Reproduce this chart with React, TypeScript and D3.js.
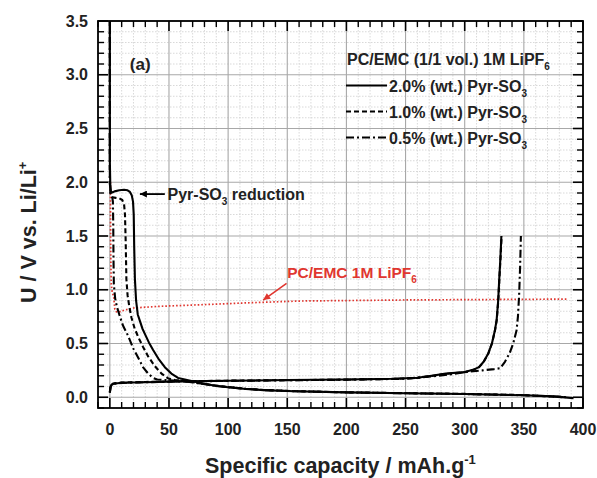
import React from "react";
import * as d3 from "d3";

type P = [number, number];

const X_MAJOR_TICKS = [0, 50, 100, 150, 200, 250, 300, 350, 400];
const Y_MAJOR_TICKS = [0.0, 0.5, 1.0, 1.5, 2.0, 2.5, 3.0, 3.5];

const SOLID_DISCHARGE: P[] = [
  [0, 3.5], [0, 2.2], [0.4, 1.97], [1, 1.91], [2, 1.905], [4, 1.915], [8, 1.925], [12, 1.93], [15, 1.925],
  [17, 1.91], [18.5, 1.88], [19.6, 1.82], [20.2, 1.7], [20.6, 1.4], [21.2, 1.1], [22.2, 0.9], [23.6, 0.77],
  [25.4, 0.71], [27.5, 0.64], [29.6, 0.59], [33, 0.51], [36.6, 0.44], [41, 0.36], [46.5, 0.28], [52, 0.22],
  [57.7, 0.18], [63.4, 0.165], [70, 0.148], [80, 0.125], [90, 0.105], [100, 0.093], [115, 0.077], [130, 0.066],
  [156, 0.056], [200, 0.045], [250, 0.037], [300, 0.03], [350, 0.018], [375, 0.008], [392, -0.008],
];
const DASHED_DISCHARGE: P[] = [
  [0, 3.5], [0, 2.0], [0.5, 1.9], [2, 1.86], [5, 1.855], [8, 1.85], [10.5, 1.835], [12, 1.8], [12.8, 1.7],
  [13.4, 1.45], [14, 1.1], [15, 0.95], [16.5, 0.84], [18.3, 0.74], [21, 0.64], [24, 0.56], [28, 0.47],
  [32.4, 0.38], [38, 0.29], [43.7, 0.22], [49.3, 0.175], [55, 0.16], [65, 0.15], [75, 0.13], [90, 0.108],
  [100, 0.095], [115, 0.079], [130, 0.068], [156, 0.057], [200, 0.046], [250, 0.038], [300, 0.031],
  [350, 0.02], [385, 0.0],
];
const DASHDOT_DISCHARGE: P[] = [
  [0, 3.5], [0, 2.0], [0.6, 1.9], [1.8, 1.88], [2.6, 1.82], [2.9, 1.6], [3.1, 1.3], [3.4, 1.05], [4.5, 0.92],
  [6, 0.84], [8, 0.77], [11, 0.67], [15.5, 0.57], [20, 0.45], [23.9, 0.37], [28, 0.28], [32.4, 0.22],
  [36.6, 0.18], [40, 0.165], [50, 0.158], [60, 0.152], [75, 0.13], [90, 0.106], [100, 0.094], [115, 0.078],
  [130, 0.067], [156, 0.056], [200, 0.045], [250, 0.037], [300, 0.03], [350, 0.019], [388, 0.0],
];
const SOLID_CHARGE: P[] = [
  [0, 0.04], [0.6, 0.09], [1.5, 0.115], [3, 0.125], [10, 0.135], [30, 0.14], [60, 0.148], [100, 0.153],
  [150, 0.16], [200, 0.165], [240, 0.172], [260, 0.182], [272, 0.2], [284, 0.22], [300, 0.235], [307, 0.255],
  [312, 0.28], [316, 0.33], [320, 0.41], [323, 0.5], [325.5, 0.62], [327, 0.72], [328.3, 0.9], [329.2, 1.1],
  [330.2, 1.3], [331, 1.5],
];
const DASHED_CHARGE: P[] = [
  [0, 0.05], [0.6, 0.1], [1.5, 0.12], [3, 0.128], [10, 0.137], [30, 0.142], [60, 0.149], [100, 0.154],
  [150, 0.159], [200, 0.164], [240, 0.171], [260, 0.18], [272, 0.198], [284, 0.218], [300, 0.233], [307, 0.253],
  [312, 0.278], [316, 0.328], [320, 0.408], [323, 0.5], [325.6, 0.62], [327.1, 0.72], [328.4, 0.9], [329.3, 1.1],
  [330.3, 1.3], [331.2, 1.5],
];
const DASHDOT_CHARGE: P[] = [
  [0, 0.045], [0.6, 0.1], [1.5, 0.118], [3, 0.126], [10, 0.134], [30, 0.14], [60, 0.147], [100, 0.152],
  [150, 0.158], [200, 0.163], [250, 0.172], [273, 0.195], [290, 0.215], [301.5, 0.235], [315, 0.25],
  [325, 0.262], [330, 0.27], [334, 0.33], [338, 0.41], [341, 0.5], [343.8, 0.62], [345, 0.75], [346, 0.95],
  [346.8, 1.2], [347.5, 1.5],
];
const RED_REFERENCE: P[] = [
  [0.5, 2.0], [0.6, 1.6], [0.8, 1.3], [1.2, 1.05], [2, 0.98], [3.3, 0.93], [4.2, 0.82], [5.5, 0.795], [7, 0.79],
  [12, 0.81], [20, 0.83], [40, 0.845], [76, 0.86], [120, 0.88], [160, 0.895], [250, 0.905], [386, 0.913],
];

const LEGEND_TITLE = "PC/EMC (1/1 vol.) 1M LiPF";
const LEGEND_LABELS = ["2.0% (wt.) Pyr-SO", "1.0% (wt.) Pyr-SO", "0.5% (wt.) Pyr-SO"];
const RED_LABEL = "PC/EMC 1M LiPF";

// annotation anchors in data units
const BLACK_ARROW: [P, P] = [[46.5, 1.89], [25.4, 1.89]];
const RED_ARROW: [P, P] = [[149.4, 1.059], [129.6, 0.904]];
const BLACK_TEXT_AT: P = [48.8, 1.834];
const RED_TEXT_AT: P = [150, 1.108];
const PANEL_AT: P = [16.9, 3.045];

const W = 597, H = 478;
const L = 98, R = 583, T = 21, B = 408;
const FONT = "'Liberation Sans', Arial, Helvetica, sans-serif";
const RED = "#e0362f";
const DASH = "5,3";
const DASHDOT = "8,3,2,3";

export default function App() {
  const x = d3.scaleLinear().domain([-10, 400]).range([L, R]);
  const y = d3.scaleLinear().domain([-0.1, 3.5]).range([B, T]);
  const line = d3.line<P>().x((d) => x(d[0])).y((d) => y(d[1]));

  const xMinor = d3.range(-10, 401, 10).filter((v) => Math.abs(v % 50) > 1e-6);
  const yMinor = d3.range(-1, 36, 1).map((v) => v / 10).filter((v) => Math.abs((v * 10) % 5) > 1e-6);

  const series = [
    { d: SOLID_DISCHARGE, dash: undefined as string | undefined },
    { d: DASHED_DISCHARGE, dash: DASH },
    { d: DASHDOT_DISCHARGE, dash: DASHDOT },
    { d: DASHED_CHARGE, dash: DASH },
    { d: DASHDOT_CHARGE, dash: DASHDOT },
    { d: SOLID_CHARGE, dash: undefined },
  ];
  const legendDash = [undefined, DASH, DASHDOT];

  return (
    <svg width={W} height={H} style={{ position: "absolute", left: 0, top: 0, background: "#fff" }} fontFamily={FONT}>
      <defs>
        <clipPath id="plot">
          <rect x={L} y={T} width={R - L} height={B - T} />
        </clipPath>
        <marker id="ah-black" viewBox="0 0 10 10" refX="10" refY="5" markerWidth="9" markerHeight="7" markerUnits="userSpaceOnUse" orient="auto">
          <path d="M0,0 L10,5 L0,10 z" fill="#000" />
        </marker>
        <marker id="ah-red" viewBox="0 0 10 10" refX="10" refY="5" markerWidth="9" markerHeight="7" markerUnits="userSpaceOnUse" orient="auto">
          <path d="M0,0 L10,5 L0,10 z" fill={RED} />
        </marker>
      </defs>
      <rect x={0} y={0} width={W} height={H} fill="#fff" />

      {/* minor grid */}
      {xMinor.map((v) => (
        <line key={"xm" + v} x1={x(v)} x2={x(v)} y1={T} y2={B} stroke="#cfcfcf" strokeWidth={0.8} strokeDasharray="1.5,1.5" />
      ))}
      {yMinor.map((v) => (
        <line key={"ym" + v} x1={L} x2={R} y1={y(v)} y2={y(v)} stroke="#cfcfcf" strokeWidth={0.8} strokeDasharray="1.5,1.5" />
      ))}
      {/* major grid */}
      {X_MAJOR_TICKS.map((v) => (
        <line key={"xg" + v} x1={x(v)} x2={x(v)} y1={T} y2={B} stroke="#a8a8a8" strokeWidth={1.1} />
      ))}
      {Y_MAJOR_TICKS.map((v) => (
        <line key={"yg" + v} x1={L} x2={R} y1={y(v)} y2={y(v)} stroke="#a8a8a8" strokeWidth={1.1} />
      ))}

      {/* data */}
      <g clipPath="url(#plot)">
        <path d={line(RED_REFERENCE) || ""} fill="none" stroke={RED} strokeWidth={1.7} strokeDasharray="1.6,2" />
        {series.map((s, i) => (
          <path key={i} d={line(s.d) || ""} fill="none" stroke="#000" strokeWidth={2.1} strokeDasharray={s.dash} strokeLinejoin="round" />
        ))}
      </g>

      {/* ticks */}
      {X_MAJOR_TICKS.map((v) => (
        <g key={"xt" + v}>
          <line x1={x(v)} x2={x(v)} y1={B} y2={B - 10} stroke="#000" strokeWidth={1.6} />
          <line x1={x(v)} x2={x(v)} y1={T} y2={T + 10} stroke="#000" strokeWidth={1.6} />
          <text x={x(v)} y={435} textAnchor="middle" fontSize={16} fontWeight="bold" fill="#222">{v}</text>
        </g>
      ))}
      {xMinor.map((v) => (
        <g key={"xmt" + v}>
          <line x1={x(v)} x2={x(v)} y1={B} y2={B - 6} stroke="#000" strokeWidth={1.4} />
          <line x1={x(v)} x2={x(v)} y1={T} y2={T + 6} stroke="#000" strokeWidth={1.4} />
        </g>
      ))}
      {Y_MAJOR_TICKS.map((v) => (
        <g key={"yt" + v}>
          <line x1={L} x2={L + 10} y1={y(v)} y2={y(v)} stroke="#000" strokeWidth={1.6} />
          <line x1={R} x2={R - 10} y1={y(v)} y2={y(v)} stroke="#000" strokeWidth={1.6} />
          <text x={88} y={y(v) + 5.5} textAnchor="end" fontSize={16} fontWeight="bold" fill="#222">{v.toFixed(1)}</text>
        </g>
      ))}
      {yMinor.map((v) => (
        <g key={"ymt" + v}>
          <line x1={L} x2={L + 6} y1={y(v)} y2={y(v)} stroke="#000" strokeWidth={1.4} />
          <line x1={R} x2={R - 6} y1={y(v)} y2={y(v)} stroke="#000" strokeWidth={1.4} />
        </g>
      ))}
      <rect x={L} y={T} width={R - L} height={B - T} fill="none" stroke="#000" strokeWidth={1.8} />

      {/* axis titles */}
      <text x={205} y={473} fontSize={21.5} fontWeight="bold" fill="#222">
        Specific capacity / mAh.g<tspan dy={-9} fontSize={13}>-1</tspan>
      </text>
      <text transform="translate(36,303) rotate(-90)" fontSize={21.5} fontWeight="bold" fill="#222">
        U / V vs. Li/Li<tspan dy={-9} fontSize={13}>+</tspan>
      </text>

      {/* panel label */}
      <text x={x(PANEL_AT[0])} y={y(PANEL_AT[1])} fontSize={17} fontWeight="bold" fill="#222">(a)</text>

      {/* legend */}
      <text x={347} y={65} fontSize={16} fontWeight="bold" fill="#222">
        {LEGEND_TITLE}<tspan dy={5} fontSize={10}>6</tspan>
      </text>
      {LEGEND_LABELS.map((lab, i) => {
        const by = 91.5 + i * 26;
        return (
          <g key={lab + i}>
            <line x1={346} x2={387} y1={by - 6} y2={by - 6} stroke="#000" strokeWidth={2} strokeDasharray={legendDash[i]} />
            <text x={389} y={by} fontSize={16} fontWeight="bold" fill="#222">
              {lab}<tspan dy={5} fontSize={10}>3</tspan>
            </text>
          </g>
        );
      })}

      {/* annotations */}
      <line x1={x(BLACK_ARROW[0][0])} y1={y(BLACK_ARROW[0][1])} x2={x(BLACK_ARROW[1][0])} y2={y(BLACK_ARROW[1][1])}
        stroke="#000" strokeWidth={1.8} markerEnd="url(#ah-black)" />
      <text x={x(BLACK_TEXT_AT[0])} y={y(BLACK_TEXT_AT[1])} fontSize={16} fontWeight="bold" fill="#222">
        Pyr-SO<tspan dy={5} fontSize={10}>3</tspan><tspan dy={-5}> reduction</tspan>
      </text>
      <line x1={x(RED_ARROW[0][0])} y1={y(RED_ARROW[0][1])} x2={x(RED_ARROW[1][0])} y2={y(RED_ARROW[1][1])}
        stroke={RED} strokeWidth={1.6} markerEnd="url(#ah-red)" />
      <text x={x(RED_TEXT_AT[0])} y={y(RED_TEXT_AT[1])} fontSize={15.5} fontWeight="bold" fill={RED}>
        {RED_LABEL}<tspan dy={5} fontSize={10}>6</tspan>
      </text>
    </svg>
  );
}
